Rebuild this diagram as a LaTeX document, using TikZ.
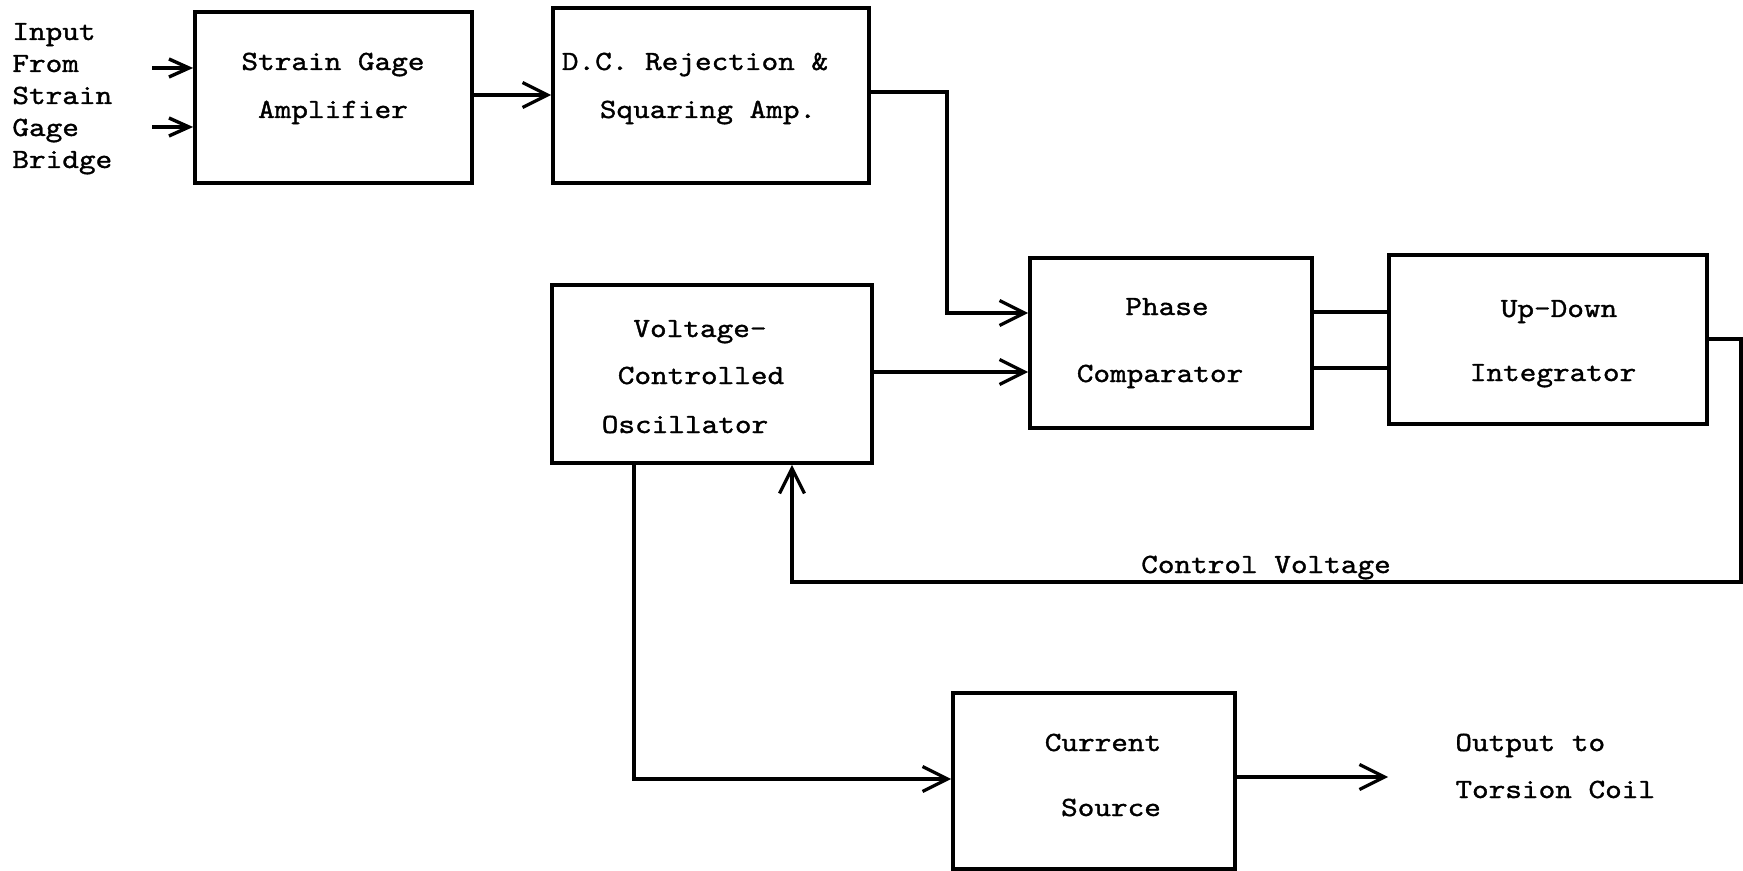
\documentclass[tikz,border=0pt]{standalone}
\usepackage{fontspec}
\newfontfamily\tyw{lmmono10-regular}[Extension=.otf, FakeStretch=1.14, FakeBold=1.2]
\usetikzlibrary{arrows.meta}
\begin{document}
\begin{tikzpicture}[x=0.5pt, y=-0.5pt,
  blk/.style={draw, line width=1.9pt, inner sep=0pt, line join=miter},
  ln/.style={line width=1.7pt},
  ar/.style={line width=1.7pt, -{Straight Barb[length=12.5pt,width=12.5pt,line width=1.6pt]}},
  inar/.style={line width=2pt, -{Straight Barb[length=10pt,width=9pt,line width=1.7pt]}},
  txt/.style={font=\tyw\fontsize{13.9}{16}\selectfont, inner sep=0pt, anchor=base},
  txtw/.style={txt, anchor=base west}]
\useasboundingbox (0,0) rectangle (1743,871);
\fill[white] (0,0) rectangle (1743,871);

% boxes
\node[blk, minimum width=138.5pt, minimum height=85.5pt] (sga) at (333.5,97.5) {};
\node[blk, minimum width=158pt, minimum height=87.5pt] (dc) at (711,95.5) {};
\node[blk, minimum width=160pt, minimum height=89pt] (vco) at (712,374) {};
\node[blk, minimum width=141pt, minimum height=85pt] (phase) at (1171,343) {};
\node[blk, minimum width=159pt, minimum height=84.5pt] (ud) at (1548,339.5) {};
\node[blk, minimum width=141pt, minimum height=88pt] (cur) at (1094,781) {};

% texts
\node[txtw] (t1) at (12,40) {Input};
\node[txtw] (t2) at (12,72) {From};
\node[txtw] (t3) at (12,104) {Strain};
\node[txtw] (t4) at (12,136) {Gage};
\node[txtw] (t5) at (12,168) {Bridge};
\node[txt] (sga1) at (333,70) {Strain Gage};
\node[txt] (sga2) at (333,118) {Amplifier};
\node[txt] (dc1) at (695,70) {D.C. Rejection \&};
\node[txt] (dc2) at (708,118) {Squaring Amp.};
\node[txt] (vco1) at (700,337) {Voltage-};
\node[txt] (vco2) at (701,384) {Controlled};
\node[txt] (vco3) at (685,433) {Oscillator};
\node[txt] (ph1) at (1167,315) {Phase};
\node[txt] (ph2) at (1160,382) {Comparator};
\node[txt] (ud1) at (1559,317) {Up-Down};
\node[txt] (ud2) at (1553,381) {Integrator};
\node[txt] (cv) at (1266,573) {Control Voltage};
\node[txt] (cs1) at (1103,751) {Current};
\node[txt] (cs2) at (1111,816) {Source};
\node[txtw] (o1) at (1455,751) {Output to};
\node[txtw] (o2) at (1455,798) {Torsion Coil};

% connectors
\coordinate (i1) at (152,68);
\coordinate (i2) at (152,127);
\draw[inar] (i1) -- (i1 -| sga.west);
\draw[inar] (i2) -- (i2 -| sga.west);
\coordinate (h95) at (0,95);
\draw[ar] (sga.east |- h95) -- (dc.west |- h95);
\coordinate (k1) at (947,92);
\coordinate (k2) at (947,313);
\draw[ar] (dc.east |- k1) -- (k1) -- (k2) -- (k2 -| phase.west);
\coordinate (h372) at (0,372);
\draw[ar] (vco.east |- h372) -- (phase.west |- h372);
\coordinate (h312) at (0,312);
\coordinate (h368) at (0,368);
\draw[ln] (phase.east |- h312) -- (ud.west |- h312);
\draw[ln] (phase.east |- h368) -- (ud.west |- h368);
\coordinate (f1) at (1741,339);
\coordinate (f2) at (1741,582);
\coordinate (f3) at (792,582);
\draw[ar] (ud.east |- f1) -- (f1) -- (f2) -- (f3) -- (f3 |- vco.south);
\coordinate (d1) at (634,779);
\draw[ar] (d1 |- vco.south) -- (d1) -- (d1 -| cur.west);
\coordinate (out) at (1388,777);
\draw[ar] (cur.east |- out) -- (out);
\end{tikzpicture}
\end{document}
